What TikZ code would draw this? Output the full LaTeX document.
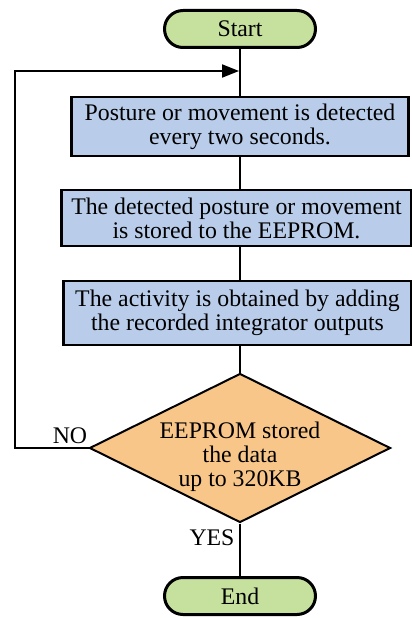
\documentclass[tikz,border=0pt]{standalone}
\usepackage{fontspec}
\setmainfont{Liberation Serif}
\usetikzlibrary{shapes.geometric,shapes.misc,arrows.meta}

\definecolor{termgreen}{RGB}{198,224,158}
\definecolor{stepblue}{RGB}{185,205,234}
\definecolor{testorange}{RGB}{249,198,138}

\begin{document}
\begin{tikzpicture}[x=1pt,y=-1pt,
	every node/.style={font=\fontsize{23.8}{24}\selectfont,inner sep=0pt},
	terminal/.style={shape=rounded rectangle,draw=black,line width=3pt,fill=termgreen,minimum width=151pt,minimum height=37pt},
	stepbox/.style={shape=rectangle,draw=black,line width=2.5pt,fill=stepblue,align=center},
	test/.style={shape=diamond,aspect=2,draw=black,line width=2pt,fill=testorange,minimum width=301pt,minimum height=149pt},
	flow/.style={line width=2pt}]
	\useasboundingbox (0,0) rectangle (412,618);

	\node[terminal] (start) at (240, 29)    {Start};
	\node[stepbox,minimum width=337pt,minimum height=59pt] (detect) at (240, 126.5)
		{Posture or movement is detected\\every two seconds.};
	\node[stepbox,minimum width=350pt,minimum height=56pt] (store) at (236.5, 218)
		{The detected posture or movement\\is stored to the EEPROM.};
	\node[stepbox,minimum width=348pt,minimum height=64pt] (activity) at (237.5, 313)
		{The activity is obtained by adding\\the recorded integrator outputs};
	\node[test] (full) at (240, 448)    {};
	\node[align=center] (fulltext) at (240, 457)    {EEPROM stored\\the data\\up to 320KB};
	\node[terminal] (end) at (240, 596)    {End};

	\coordinate (loop) at (15, 71);
	\coordinate (join) at (239, 71);

	\draw[flow] (start.south) -- (detect.north);
	\draw[flow] (detect.south) -- (detect.south |- store.north);
	\draw[flow] (detect.south |- store.south) -- (detect.south |- activity.north);
	\draw[flow] (detect.south |- activity.south) -- (full.north);
	\draw[flow] (full.south) -- (end.north);
	\draw[flow,-{Triangle[length=17pt,width=13pt]}] (full.west) -| (loop) -- (join);

	\node (no) at (70, 436)    {NO};
	\node (yes) at (212, 538)    {YES};
\end{tikzpicture}
\end{document}
